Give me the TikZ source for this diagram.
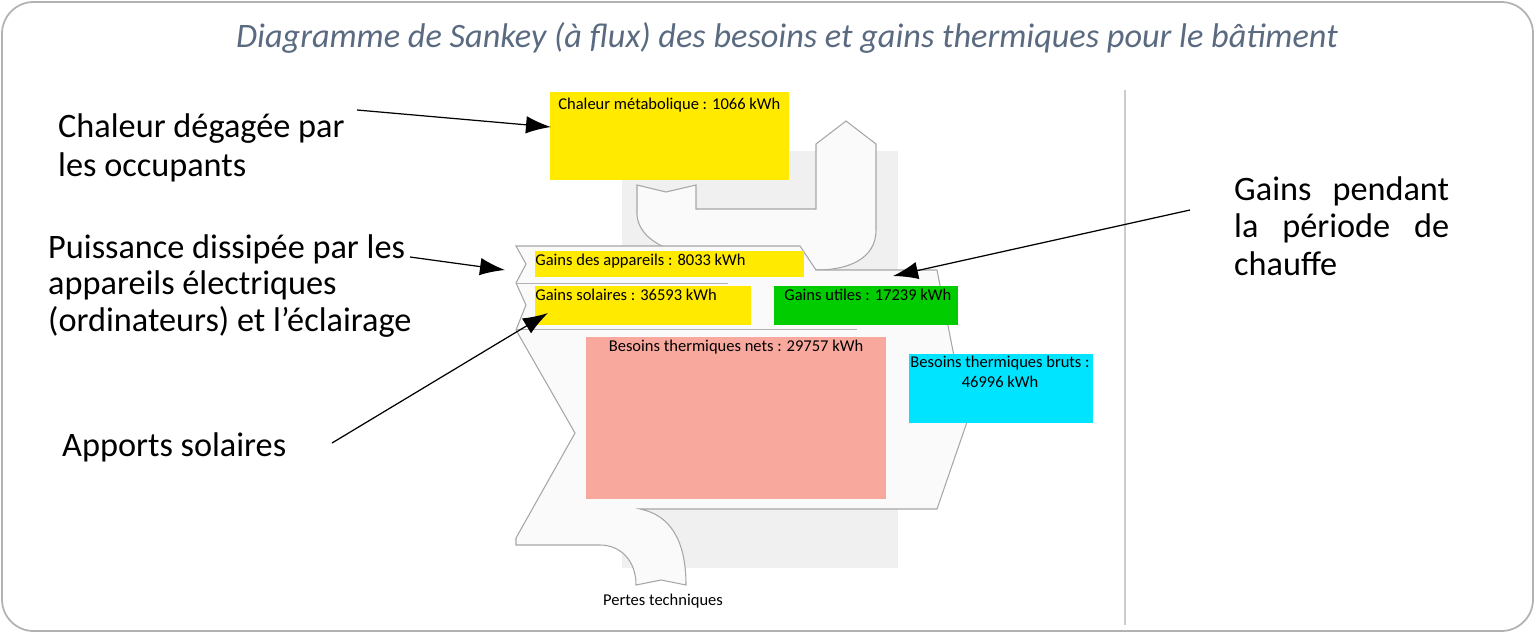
\documentclass[tikz,border=0pt]{standalone}
\usepackage{fontspec}
\setmainfont{Carlito}
\usetikzlibrary{arrows.meta}
\definecolor{titleblue}{HTML}{5A6A80}
\definecolor{sunyellow}{HTML}{FFEA00}
\definecolor{usegreen}{HTML}{00CC00}
\definecolor{netsalmon}{HTML}{F9A89E}
\definecolor{grosscyan}{HTML}{00E4FF}
\begin{document}
\begin{tikzpicture}[x=0.02cm,y=-0.02cm,
    note/.style={anchor=west,font=\fontsize{19.5}{22}\selectfont,align=left},
    flowbox/.style={anchor=north west,inner sep=0pt,font=\fontsize{9.4}{11}\selectfont},
    flow/.style={fill=gray!4,draw=gray!70,line width=0.6pt},
    pointer/.style={-{Latex[length=5mm,width=3.5mm]},line width=0.7pt}]

  \useasboundingbox (0,0) rectangle (1535,633);
  \draw[gray!60,line width=1pt,rounded corners=18pt] (2,2) rectangle (1533,631);
  \node[font=\fontsize{19.5}{22}\selectfont\itshape,text=titleblue] (title) at (787,38)
    {Diagramme de Sankey (à flux) des besoins et gains thermiques pour le bâtiment};

  % sankey area
  \draw[gray!40,line width=1pt] (1125,90) -- (1125,625);
  \fill[gray!12] (622,151) rectangle (898,568);
  \draw[flow] (637,185) -- (666,192) -- (696,185) -- (696,209) -- (816,209) -- (816,144)
    -- (846,121) -- (876,144) -- (876,230) .. controls (876,258) and (850,270) .. (816,270)
    -- (760,262) .. controls (690,262) and (640,248) .. (637,215) -- cycle;
  \draw[flow] (516,246) -- (800,246) -- (816,270) -- (937,270) -- (967,422) -- (937,509)
    -- (640,509) .. controls (670,515) and (686,540) .. (686,585) -- (661,580) -- (636,585)
    .. controls (636,560) and (620,545) .. (600,545) -- (516,545) -- (516,538) -- (575,433)
    -- (516,330) -- (526,305) -- (516,283) -- (526,264) -- cycle;
  \draw[gray!60] (516,283) -- (728,283);
  \draw[gray!60] (516,329) -- (857,329);

  % boxes
  \fill[sunyellow] (550,92) rectangle (789,180);
  \node[flowbox] (meta) at (558,98) {Chaleur métabolique : 1066 kWh};
  \fill[sunyellow] (535,251) rectangle (804,277);
  \node[flowbox] (appl) at (535,254) {Gains des appareils : 8033 kWh};
  \fill[sunyellow] (535,286) rectangle (751,325);
  \node[flowbox] (solar) at (535,289) {Gains solaires : 36593 kWh};
  \fill[usegreen] (774,286) rectangle (958,325);
  \node[flowbox] (useful) at (784,289) {Gains utiles : 17239 kWh};
  \fill[netsalmon] (586,337) rectangle (886,499);
  \node[flowbox,anchor=north] (net) at (736,340) {Besoins thermiques nets : 29757 kWh};
  \fill[grosscyan] (909,354) rectangle (1093,423);
  \node[flowbox,anchor=north,align=center] (gross) at (1000,356) {Besoins thermiques bruts :\\46996 kWh};
  \node[flowbox,anchor=center] (loss) at (663,601) {Pertes techniques};

  % notes
  \node[note] (occ) at (52,148) {Chaleur dégagée par\\les occupants};
  \node[note,font=\fontsize{19.5}{21}\selectfont] (elec) at (42,286) {Puissance dissipée par les\\appareils électriques\\(ordinateurs) et l’éclairage};
  \node[note] (sun) at (56,447) {Apports solaires};
  \node[note,anchor=north west,align=justify,text width=4.3cm,font=\fontsize{19.5}{21.5}\selectfont] (heat) at (1228,170)
    {Gains pendant la période de chauffe};

  \coordinate (occtail) at (357,110);
  \coordinate (electail) at (410,257);
  \coordinate (suntail) at (332,443);
  \coordinate (heattail) at (1190,210);
  \draw[pointer] (occtail) -- (551,127);
  \draw[pointer] (electail) -- (505,270);
  \draw[pointer] (suntail) -- (548,313);
  \draw[pointer] (heattail) -- (893,276);
\end{tikzpicture}
\end{document}
